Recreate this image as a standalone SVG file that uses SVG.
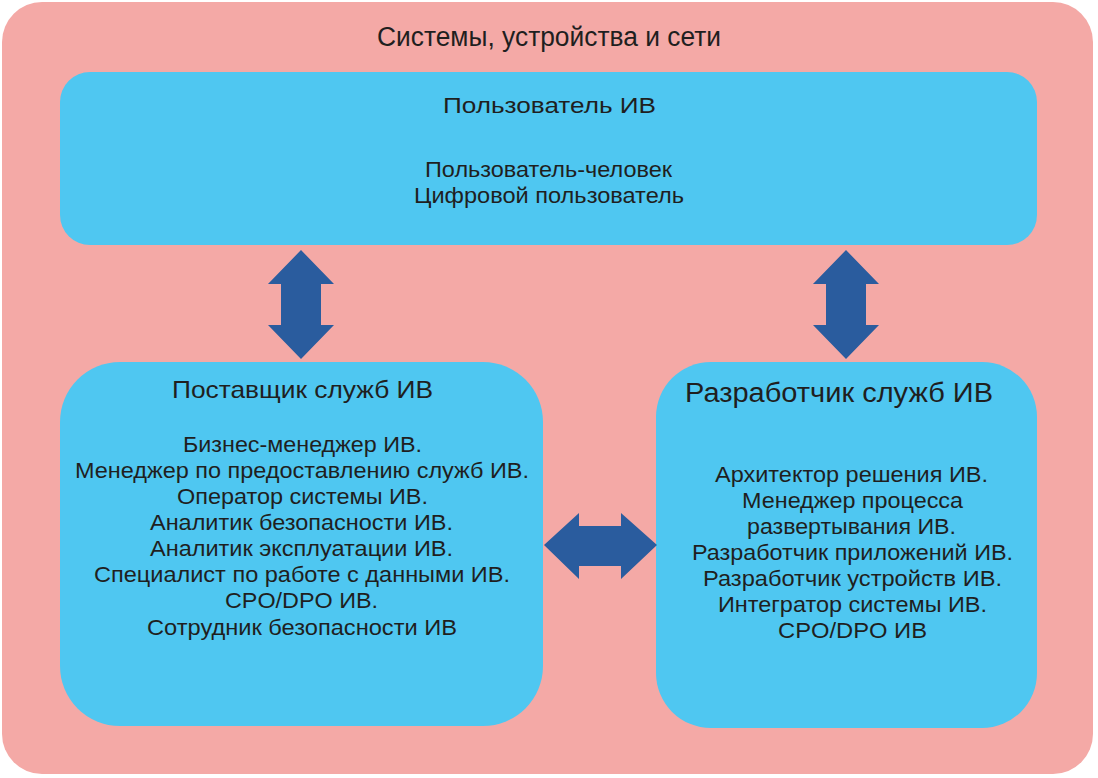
<svg xmlns="http://www.w3.org/2000/svg" width="1098" height="778" viewBox="0 0 1098 778">
<defs>
<style>
.t{font-family:"Liberation Sans",Arial,sans-serif;fill:#1f1f1f;text-anchor:middle}
.box{fill:#4FC7F1}
.arr{fill:#2A5C9E}
</style>
</defs>
<rect width="1098" height="778" fill="#ffffff"/>
<g id="outer">
<rect x="2" y="2" width="1091" height="772" rx="40" fill="#F4A9A6"/>
<text class="t" x="549" y="46" font-size="27" textLength="344" lengthAdjust="spacingAndGlyphs">Системы, устройства и сети</text>
</g>
<g id="user">
<rect class="box" x="60" y="72" width="977" height="173" rx="30"/>
<text class="t" x="549.5" y="113" font-size="22" textLength="213" lengthAdjust="spacingAndGlyphs">Пользователь ИВ</text>
<text class="t" x="548.5" y="177" font-size="22" textLength="247" lengthAdjust="spacingAndGlyphs">Пользователь-человек</text>
<text class="t" x="549" y="203" font-size="22" textLength="270" lengthAdjust="spacingAndGlyphs">Цифровой пользователь</text>
</g>
<g id="provider">
<rect class="box" x="60" y="362" width="483" height="364" rx="60"/>
<text class="t" x="302.5" y="398" font-size="24" textLength="261" lengthAdjust="spacingAndGlyphs">Поставщик служб ИВ</text>
<g font-size="22" lengthAdjust="spacingAndGlyphs">
<text class="t" x="302.5" y="452" textLength="239" lengthAdjust="spacingAndGlyphs">Бизнес-менеджер ИВ.</text>
<text class="t" x="302" y="478" textLength="454" lengthAdjust="spacingAndGlyphs">Менеджер по предоставлению служб ИВ.</text>
<text class="t" x="302.5" y="504" textLength="251" lengthAdjust="spacingAndGlyphs">Оператор системы ИВ.</text>
<text class="t" x="301.5" y="530" textLength="303" lengthAdjust="spacingAndGlyphs">Аналитик безопасности ИВ.</text>
<text class="t" x="301.5" y="556" textLength="303" lengthAdjust="spacingAndGlyphs">Аналитик эксплуатации ИВ.</text>
<text class="t" x="302" y="582" textLength="416" lengthAdjust="spacingAndGlyphs">Специалист по работе с данными ИВ.</text>
<text class="t" x="301.5" y="608" textLength="153" lengthAdjust="spacingAndGlyphs">CPO/DPO ИВ.</text>
<text class="t" x="302" y="635" textLength="310" lengthAdjust="spacingAndGlyphs">Сотрудник безопасности ИВ</text>
</g>
</g>
<g id="developer">
<rect class="box" x="656" y="362" width="381" height="366" rx="55"/>
<text class="t" x="839" y="402" font-size="27" textLength="308" lengthAdjust="spacingAndGlyphs">Разработчик служб ИВ</text>
<g font-size="22">
<text class="t" x="851.5" y="482" textLength="273" lengthAdjust="spacingAndGlyphs">Архитектор решения ИВ.</text>
<text class="t" x="852.5" y="508" textLength="221" lengthAdjust="spacingAndGlyphs">Менеджер процесса</text>
<text class="t" x="851.5" y="534" textLength="209" lengthAdjust="spacingAndGlyphs">развертывания ИВ.</text>
<text class="t" x="852.5" y="560" textLength="321" lengthAdjust="spacingAndGlyphs">Разработчик приложений ИВ.</text>
<text class="t" x="852.5" y="586" textLength="299" lengthAdjust="spacingAndGlyphs">Разработчик устройств ИВ.</text>
<text class="t" x="852.5" y="612" textLength="269" lengthAdjust="spacingAndGlyphs">Интегратор системы ИВ.</text>
<text class="t" x="852.5" y="638" textLength="149" lengthAdjust="spacingAndGlyphs">CPO/DPO ИВ</text>
</g>
</g>
<g id="connectors">
<polygon class="arr" points="301,250 334,284 321,284 321,325 334,325 301,359 268,325 281,325 281,284 268,284"/>
<polygon class="arr" points="846,250 879,284 866,284 866,325 879,325 846,359 813,325 826,325 826,284 813,284"/>
<polygon class="arr" points="544,545 579,513 579,526 621,526 621,513 657,545 621,579 621,566 579,566 579,579"/>
</g>
</svg>
